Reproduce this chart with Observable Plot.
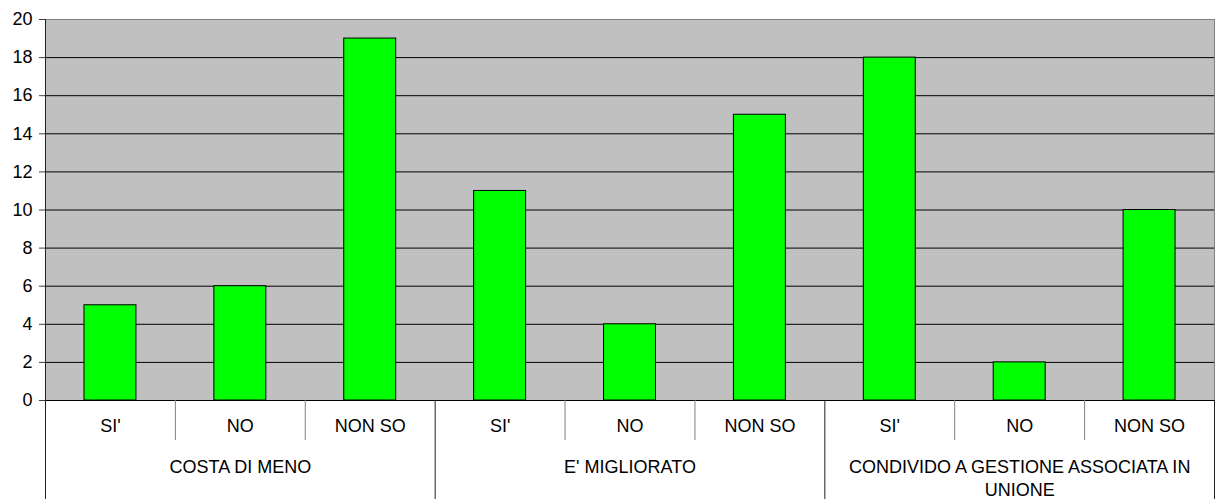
<!DOCTYPE html>
<html>
<head>
<meta charset="utf-8">
<script src="https://cdn.jsdelivr.net/npm/d3@7"></script>
<script src="https://cdn.jsdelivr.net/npm/@observablehq/plot@0.6"></script>
<style>
  body { margin: 0; background: #fff; }
  #chart svg { display: block; }
</style>
</head>
<body>
<div id="chart"></div>
<script>
// Survey answers, grouped by question
const groups = ["COSTA DI MENO", "E' MIGLIORATO", "CONDIVIDO A GESTIONE ASSOCIATA IN UNIONE"];
const answers = ["SI'", "NO", "NON SO"];
const counts = [5, 6, 19, 11, 4, 15, 18, 2, 10];
const yTicks = [0, 2, 4, 6, 8, 10, 12, 14, 16, 18, 20];

// One row per bar: slot index across the whole axis, its question and its answer
const rows = counts.map((value, i) => ({
  slot: i,
  group: groups[Math.floor(i / answers.length)],
  answer: answers[i % answers.length],
  value
}));

const nSlots = rows.length;
const slotBounds = d3.range(1, nSlots + 1);                   // right edge of every bar slot
const groupBounds = slotBounds.filter(b => b % answers.length === 0);
const answerBounds = slotBounds.filter(b => b % answers.length !== 0);
const font = "'Liberation Sans', Arial, sans-serif";

const chart = Plot.plot({
  width: 1217,
  height: 499,
  marginLeft: 45,
  marginRight: 3,
  marginTop: 19,
  marginBottom: 99,
  style: { fontFamily: font, fontSize: "18px", color: "#000", background: "#fff", overflow: "visible" },
  x: { domain: [0, nSlots], axis: null },
  y: { domain: [0, 20], axis: null },
  marks: [
    // plot area
    Plot.frame({ fill: "#c0c0c0", stroke: "#808080" }),
    Plot.ruleY(yTicks.filter(t => t > 0 && t < 20), { stroke: "#000", strokeWidth: 1 }),
    // bars
    Plot.rectY(rows, {
      x1: d => d.slot + 0.3,
      x2: d => d.slot + 0.7,
      y: "value",
      fill: "#00ff00",
      stroke: "#000",
      strokeWidth: 1
    }),
    // value axis
    Plot.axisY({
      ticks: yTicks,
      tickSize: 6,
      tickPadding: 7,
      tickFormat: d => String(d),
      label: null,
      fontSize: 18,
      stroke: "#404040"
    }),
    Plot.ruleY([0], { stroke: "#000" }),
    // left axis line, carried down through the category rows
    Plot.ruleX([0], { stroke: "#202020", insetBottom: -99 }),
    // two-level category axis
    Plot.ruleX(answerBounds, { x: d => d, y1: 0, y2: 0, insetBottom: -40, stroke: "#808080" }),
    Plot.ruleX(groupBounds, { x: d => d, y1: 0, y2: 0, insetBottom: -99, stroke: "#202020" }),
    Plot.text(rows, {
      x: d => d.slot + 0.5,
      y: 0,
      text: "answer",
      dy: 26,
      fontSize: 18,
      fill: "#000"
    }),
    Plot.text(groups, {
      x: (d, i) => i * answers.length + answers.length / 2,
      y: 0,
      text: d => d,
      dy: 57,
      lineAnchor: "top",
      lineWidth: 21,
      lineHeight: 1.25,
      fontSize: 18,
      fill: "#000"
    })
  ]
});

document.getElementById("chart").append(chart);
</script>
</body>
</html>
